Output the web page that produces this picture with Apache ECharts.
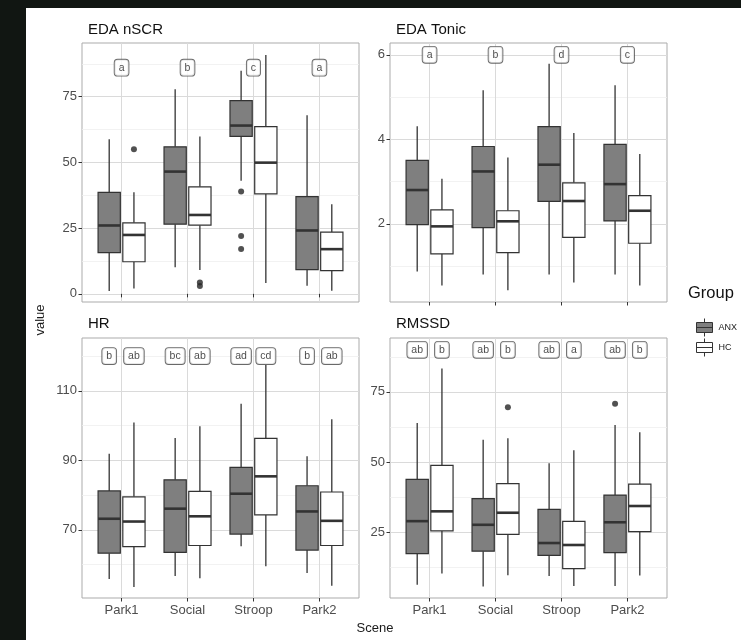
<!DOCTYPE html>
<html>
<head>
<meta charset="utf-8">
<script src="https://cdn.jsdelivr.net/npm/echarts@6/dist/echarts.min.js"></script>
<style>
  html, body { margin: 0; padding: 0; background: #111612; }
  #chart { width: 741px; height: 640px; }
</style>
</head>
<body>
<div id="chart"></div>
<script>
const scenes = ['Park1', 'Social', 'Stroop', 'Park2'];
const panelTitles = ['EDA nSCR', 'EDA Tonic', 'HR', 'RMSSD'];

// box stats per scene: [lower whisker, Q1, median, Q3, upper whisker]
const nscrANX = [[1.1, 15.7, 26.0, 38.6, 58.8], [10.1, 26.5, 46.5, 55.9, 77.8], [43.0, 59.9, 64.0, 73.5, 84.8], [3.1, 9.2, 24.1, 37.0, 67.9]];
const nscrHC = [[2.0, 12.2, 22.4, 27.0, 38.6], [9.1, 26.1, 30.0, 40.7, 59.8], [4.1, 38.0, 49.9, 63.6, 90.8], [1.2, 8.8, 17.0, 23.5, 34.1]];
const tonicANX = [[0.87, 1.98, 2.80, 3.50, 4.31], [0.80, 1.91, 3.24, 3.83, 5.16], [0.80, 2.53, 3.40, 4.30, 5.79], [0.80, 2.07, 2.94, 3.88, 5.28]];
const tonicHC = [[0.54, 1.29, 1.94, 2.33, 3.07], [0.43, 1.32, 2.06, 2.31, 3.57], [0.61, 1.68, 2.54, 2.97, 4.15], [0.54, 1.54, 2.31, 2.67, 3.65]];
const hrANX = [[55.9, 63.3, 73.2, 81.2, 91.9], [56.7, 63.5, 76.1, 84.4, 96.4], [65.3, 68.8, 80.4, 88.0, 106.3], [57.6, 64.2, 75.3, 82.7, 91.2]];
const hrHC = [[53.6, 65.2, 72.4, 79.5, 100.9], [56.1, 65.5, 73.9, 81.1, 99.8], [59.5, 74.3, 85.4, 96.3, 117.4], [53.9, 65.5, 72.6, 80.9, 101.8]];
const rmssdANX = [[6.2, 17.3, 28.9, 43.8, 63.9], [5.6, 18.2, 27.6, 36.9, 57.9], [9.3, 16.7, 21.1, 33.1, 49.5], [5.8, 17.7, 28.5, 38.2, 63.2]];
const rmssdHC = [[10.2, 25.4, 32.4, 48.8, 83.3], [9.6, 24.2, 31.9, 42.3, 58.5], [5.8, 12.0, 20.4, 28.8, 54.2], [9.5, 25.2, 34.3, 42.1, 60.6]];

// outliers per scene
const nscrOutANX = [[], [], [38.9, 22.0, 17.1], []];
const nscrOutHC = [[55.0], [4.3, 3.0], [], []];
const tonicOutANX = [[], [], [], []];
const tonicOutHC = [[], [], [], []];
const hrOutANX = [[], [], [], []];
const hrOutHC = [[], [], [], []];
const rmssdOutANX = [[], [], [], [70.8]];
const rmssdOutHC = [[], [69.5], [], []];

// significance letters (one per scene, or one per group)
const nscrLetters = ['a', 'b', 'c', 'a'];
const tonicLetters = ['a', 'b', 'd', 'c'];
const hrLettersANX = ['b', 'bc', 'ad', 'b'];
const hrLettersHC = ['ab', 'ab', 'cd', 'ab'];
const rmssdLettersANX = ['ab', 'ab', 'ab', 'ab'];
const rmssdLettersHC = ['b', 'b', 'a', 'b'];
const letterY = [86, 6, 120, 90];

// y axis ranges and ticks
const yMin = [-3.1, 0.15, 50.4, 1.5];
const yMax = [95.4, 6.28, 125.2, 94.2];
const yTicks = [[0, 25, 50, 75], [2, 4, 6], [70, 90, 110], [25, 50, 75]];
const yMinorTicks = [[12.5, 37.5, 62.5, 87.5], [1, 3, 5], [60, 80, 100, 120], [12.5, 37.5, 62.5, 87.5]];

const panels = [
  { anx: nscrANX, hc: nscrHC, outA: nscrOutANX, outH: nscrOutHC, lettersC: nscrLetters },
  { anx: tonicANX, hc: tonicHC, outA: tonicOutANX, outH: tonicOutHC, lettersC: tonicLetters },
  { anx: hrANX, hc: hrHC, outA: hrOutANX, outH: hrOutHC, lettersA: hrLettersANX, lettersH: hrLettersHC },
  { anx: rmssdANX, hc: rmssdHC, outA: rmssdOutANX, outH: rmssdOutHC, lettersA: rmssdLettersANX, lettersH: rmssdLettersHC }
];

const FONT = '"Liberation Sans", Arial, sans-serif';
const DODGE = 0.1875;
const BOX_W = 0.3375;
const INK = '#333333';
const grids = [
  { left: 82, top: 43, width: 277, height: 259 },
  { left: 390, top: 43, width: 277, height: 259 },
  { left: 82, top: 338, width: 277, height: 260 },
  { left: 390, top: 338, width: 277, height: 260 }
];

function renderBox(params, api) {
  const x = api.value(0);
  const lo = api.coord([x, api.value(1)]);
  const q1 = api.coord([x, api.value(2)]);
  const md = api.coord([x, api.value(3)]);
  const q3 = api.coord([x, api.value(4)]);
  const hi = api.coord([x, api.value(5)]);
  const w = api.size([BOX_W, 0])[0];
  const fill = api.visual('color');
  return {
    type: 'group',
    children: [
      { type: 'line', shape: { x1: lo[0], y1: lo[1], x2: q1[0], y2: q1[1] }, style: { stroke: INK, lineWidth: 1.3 } },
      { type: 'line', shape: { x1: q3[0], y1: q3[1], x2: hi[0], y2: hi[1] }, style: { stroke: INK, lineWidth: 1.3 } },
      { type: 'rect', shape: { x: q3[0] - w / 2, y: q3[1], width: w, height: q1[1] - q3[1] }, style: { fill: fill, stroke: INK, lineWidth: 1.2 } },
      { type: 'line', shape: { x1: md[0] - w / 2, y1: md[1], x2: md[0] + w / 2, y2: md[1] }, style: { stroke: INK, lineWidth: 2.6 } }
    ]
  };
}

const xAxes = [], yAxes = [], series = [];
panels.forEach((p, i) => {
  const bottomRow = i >= 2;
  xAxes.push({
    type: 'value', gridIndex: i, min: 0.4, max: 4.6,
    axisLine: { show: false },
    axisTick: { show: true, customValues: [1, 2, 3, 4], length: 3.5, lineStyle: { color: INK, width: 1 } },
    axisLabel: {
      show: bottomRow, customValues: [1, 2, 3, 4], formatter: (v) => scenes[Math.round(v) - 1] || '',
      color: '#4d4d4d', fontSize: 13, fontFamily: FONT, margin: 6
    },
    splitLine: { show: true, lineStyle: { color: '#dadada', width: 1 } }
  });
  yAxes.push({
    type: 'value', gridIndex: i, min: yMin[i], max: yMax[i],
    axisLine: { show: false },
    axisTick: { show: true, customValues: yTicks[i], length: 3.5, lineStyle: { color: INK, width: 1 } },
    axisLabel: { customValues: yTicks[i], color: '#4d4d4d', fontSize: 13, fontFamily: FONT, margin: 5 },
    splitLine: { show: true, lineStyle: { color: '#dadada', width: 1 } }
  });
  // minor grid lines
  yAxes.push({
    type: 'value', gridIndex: i, min: yMin[i], max: yMax[i], position: 'left',
    axisLine: { show: false },
    axisTick: { show: false, customValues: yMinorTicks[i] },
    axisLabel: { show: false, customValues: yMinorTicks[i] },
    splitLine: { show: true, lineStyle: { color: '#efefef', width: 0.8 } }
  });
  const yIdx = i * 2;
  const boxes = (arr, off) => arr.map((s, k) => [k + 1 + off].concat(s));
  series.push({
    name: 'ANX', type: 'custom', xAxisIndex: i, yAxisIndex: yIdx, renderItem: renderBox,
    itemStyle: { color: '#7f7f7f', borderColor: INK, borderWidth: 1 },
    encode: { x: 0, y: [1, 2, 3, 4, 5] }, data: boxes(p.anx, -DODGE), z: 3
  });
  series.push({
    name: 'HC', type: 'custom', xAxisIndex: i, yAxisIndex: yIdx, renderItem: renderBox,
    itemStyle: { color: '#ffffff', borderColor: INK, borderWidth: 1 },
    encode: { x: 0, y: [1, 2, 3, 4, 5] }, data: boxes(p.hc, DODGE), z: 3
  });
  const outs = [];
  p.outA.forEach((vals, k) => vals.forEach((v) => outs.push([k + 1 - DODGE, v])));
  p.outH.forEach((vals, k) => vals.forEach((v) => outs.push([k + 1 + DODGE, v])));
  series.push({
    type: 'scatter', xAxisIndex: i, yAxisIndex: yIdx, symbolSize: 6,
    itemStyle: { color: '#262626' }, data: outs, z: 4, silent: true
  });
  const lab = [];
  if (p.lettersC) p.lettersC.forEach((t, k) => lab.push({ name: t, value: [k + 1, letterY[i]] }));
  if (p.lettersA) p.lettersA.forEach((t, k) => lab.push({ name: t, value: [k + 1 - DODGE, letterY[i]] }));
  if (p.lettersH) p.lettersH.forEach((t, k) => lab.push({ name: t, value: [k + 1 + DODGE, letterY[i]] }));
  series.push({
    type: 'scatter', xAxisIndex: i, yAxisIndex: yIdx, symbolSize: 0.1,
    itemStyle: { color: 'rgba(0,0,0,0)' }, data: lab, z: 5, silent: true,
    label: {
      show: true, position: 'inside', formatter: '{b}', color: '#1a1a1a', fontSize: 10.5, fontFamily: FONT,
      backgroundColor: '#ffffff', borderColor: '#444', borderWidth: 0.9, borderRadius: 3, padding: [3, 4, 2, 4]
    }
  });
});

const titleStyle = { fontSize: 15, fontWeight: 'normal', color: '#111', fontFamily: FONT };
const titles = [
  { text: panelTitles[0], left: 88, top: 22 },
  { text: panelTitles[1], left: 396, top: 22 },
  { text: panelTitles[2], left: 88, top: 316 },
  { text: panelTitles[3], left: 396, top: 316 },
  { text: 'Group', left: 688, top: 285, textStyle: Object.assign({}, titleStyle, { fontSize: 16.5 }) }
].map((t) => Object.assign({ padding: 0, textStyle: titleStyle }, t));

const chart = echarts.init(document.getElementById('chart'), null, { renderer: 'canvas' });
chart.setOption({
  animation: false,
  backgroundColor: '#111612',
  title: titles,
  grid: grids.map((g) => Object.assign({ show: true, borderColor: '#ababab', borderWidth: 1, backgroundColor: '#fff' }, g)),
  xAxis: xAxes,
  yAxis: yAxes,
  legend: {
    orient: 'vertical', left: 691, top: 313, itemGap: 1, itemWidth: 16, itemHeight: 18,
    data: ['ANX', 'HC'],
    icon: 'path://M8,0L8,4M0,4L16,4L16,14L0,14ZM0,9L16,9M8,14L8,18',
    itemStyle: { borderColor: INK, borderWidth: 1 },
    textStyle: { fontSize: 9, color: '#1a1a1a', fontFamily: FONT, padding: [0, 0, 0, 1] },
    selectedMode: false
  },
  graphic: [
    { type: 'rect', z: -10, silent: true, shape: { x: 26, y: 8, width: 741 - 26, height: 640 - 8 }, style: { fill: '#ffffff' } },
    { type: 'text', x: 40, y: 320, rotation: Math.PI / 2, silent: true,
      style: { text: 'value', fontSize: 13, fontFamily: FONT, fill: '#1a1a1a', align: 'center', verticalAlign: 'middle' } },
    { type: 'text', x: 375, y: 628, silent: true,
      style: { text: 'Scene', fontSize: 13, fontFamily: FONT, fill: '#1a1a1a', align: 'center', verticalAlign: 'middle' } }
  ],
  series: series
});
</script>
</body>
</html>
